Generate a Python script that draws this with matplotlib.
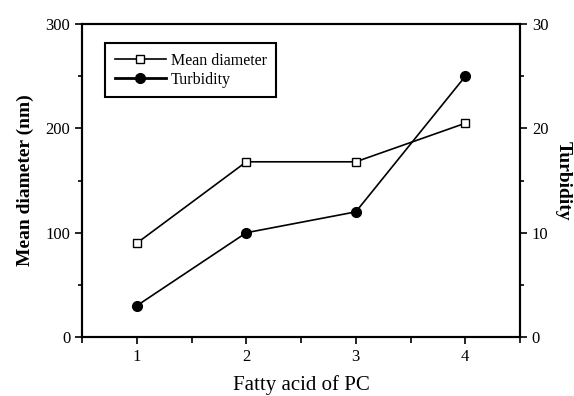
import matplotlib.pyplot as plt
from matplotlib.ticker import MultipleLocator
from matplotlib.lines import Line2D

plt.rcParams['font.family'] = ['Liberation Serif', 'DejaVu Serif']

# data
fatty_acid = [1, 2, 3, 4]
mean_diameter = [90, 168, 168, 205]
turbidity = [3, 10, 12, 25]

fig = plt.figure(figsize=(5.74, 3.96), dpi=100)
ax = fig.add_axes([0.143, 0.149, 0.763, 0.790])
ax2 = ax.twinx()

ax.plot(fatty_acid, mean_diameter, color='black', lw=1.2, marker='s',
        markersize=5.5, markerfacecolor='white', markeredgecolor='black',
        markeredgewidth=1.0, zorder=3)
ax2.plot(fatty_acid, turbidity, color='black', lw=1.2, marker='o',
         markersize=7, markerfacecolor='black', markeredgecolor='black', zorder=3)

ax.set_xlim(0.5, 4.5)
ax.set_ylim(0, 300)
ax2.set_ylim(0, 30)
ax.set_xticks([1, 2, 3, 4])
ax.xaxis.set_minor_locator(MultipleLocator(0.5))
ax.yaxis.set_major_locator(MultipleLocator(100))
ax.yaxis.set_minor_locator(MultipleLocator(50))
ax2.yaxis.set_major_locator(MultipleLocator(10))
ax2.yaxis.set_minor_locator(MultipleLocator(5))

for a in (ax, ax2):
    for s in a.spines.values():
        s.set_linewidth(1.5)
    a.tick_params(which='major', direction='out', length=5, width=1.2, labelsize=12)
    a.tick_params(which='minor', direction='out', length=3, width=1.2)
ax.tick_params(axis='x', pad=4)
ax.tick_params(axis='x', which='minor', length=4)
ax.tick_params(which='both', top=False)

ax.set_xlabel('Fatty acid of PC', fontsize=15, labelpad=7)
ax.set_ylabel('Mean diameter (nm)', fontsize=14, fontweight='bold', labelpad=8)
ax2.set_ylabel('Turbidity', fontsize=14, fontweight='bold', rotation=270, labelpad=17)

# legend: open square line + thicker filled circle line
handles = [
    Line2D([], [], color='black', lw=1.2, marker='s', markersize=5.5,
           markerfacecolor='white', markeredgecolor='black'),
    Line2D([], [], color='black', lw=2.0, marker='o', markersize=7,
           markerfacecolor='black'),
]
leg = ax.legend(handles, ['Mean diameter', 'Turbidity'], loc='upper left',
                bbox_to_anchor=(0.053, 0.94), borderaxespad=0, fontsize=11.5,
                fancybox=False, edgecolor='black', framealpha=1,
                handlelength=3.2, borderpad=0.6, labelspacing=0.2,
                handletextpad=0.3)
leg.get_frame().set_linewidth(1.5)

fig.savefig('out.png', dpi=100)
